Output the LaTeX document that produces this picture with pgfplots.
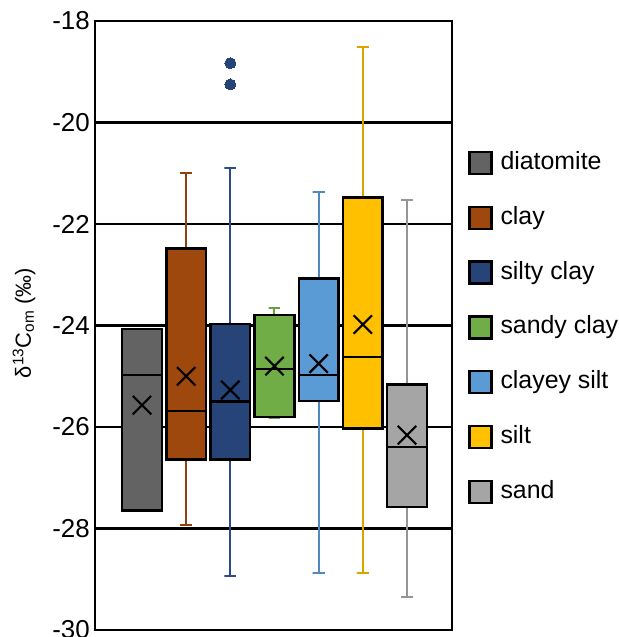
\documentclass[border=0pt]{standalone}
\usepackage{fontspec}
\setmainfont{Liberation Sans}
\usepackage{pgfplots}
\pgfplotsset{compat=1.18}
\definecolor{c1}{HTML}{636363}
\definecolor{c2}{HTML}{9E480E}
\definecolor{c3}{HTML}{264478}
\definecolor{c4}{HTML}{70AD47}
\definecolor{c5}{HTML}{5B9BD5}
\definecolor{c6}{HTML}{FFC000}
\definecolor{c7}{HTML}{A5A5A5}
\definecolor{w2}{HTML}{8E4210}
\definecolor{w3}{HTML}{2B4C80}
\definecolor{w4}{HTML}{6AA044}
\definecolor{w5}{HTML}{5089C2}
\definecolor{w6}{HTML}{D9A300}
\definecolor{w7}{HTML}{959595}
\pgfplotsset{
  box/.style={draw=black, fill=#1, line width=2.5bp, forget plot},
  whisk/.style={draw=#1, line width=2bp, forget plot},
  med/.style={draw=black, line width=2.3bp, forget plot},
  avg/.style={only marks, mark=x, mark size=13bp, mark options={draw=black, line width=2.2bp}, forget plot},
  sq/.style={legend image code/.code={\draw[fill=#1, draw=black, line width=2.5bp] (0bp,-11bp) rectangle (22bp,11bp);}},
}
\begin{document}
\begin{tikzpicture}
\path[use as bounding box] (-95bp,-7bp) rectangle (524bp,630bp);
\begin{axis}[
  at={(0,0)}, anchor=south west,
  scale only axis, width=357bp, height=609bp,
  xmin=-0.064, xmax=8.019,
  ymin=-30, ymax=-18,
  xtick=\empty,
  ytick={-30,-28,-26,-24,-22,-20,-18},
  major tick length=0pt,
  ymajorgrids,
  major grid style={black, line width=2.2bp},
  axis line style={black, line width=2.5bp},
  /pgf/number format/assume math mode=true,
  yticklabel style={font=\fontsize{26}{30}\selectfont, inner sep=0pt, xshift=-5bp},
  ylabel={δ\textsuperscript{13}C\textsubscript{om} (‰)},
  ylabel style={font=\fontsize{22}{26}\selectfont, at={(axis description cs:-0.199,0.504)}, anchor=center},
  legend cell align=left,
  legend style={at={(1.0448,0.787)}, anchor=north west, draw=none, fill=none,
    inner sep=0pt, outer sep=0pt, font=\fontsize{25}{30}\selectfont,
    row sep=30.3bp, /tikz/column sep=8bp,
    nodes={inner sep=0pt, text height=18bp, text depth=5bp}},
]
% diatomite (no whiskers)
\addplot[box=c1] coordinates {(0.55,-27.65) (1.45,-27.65) (1.45,-24.07) (0.55,-24.07)} -- cycle;
\addplot[med] coordinates {(0.55,-24.98) (1.45,-24.98)};
\addplot[avg] coordinates {(1,-25.57)};
% clay
\addplot[whisk=w2] coordinates {(2,-22.48) (2,-21.00) (1.865,-21.00) (2.135,-21.00)};
\addplot[whisk=w2] coordinates {(2,-26.64) (2,-27.94) (1.865,-27.94) (2.135,-27.94)};
\addplot[box=c2] coordinates {(1.55,-26.64) (2.45,-26.64) (2.45,-22.48) (1.55,-22.48)} -- cycle;
\addplot[med] coordinates {(1.55,-25.68) (2.45,-25.68)};
\addplot[avg] coordinates {(2,-25.00)};
% silty clay
\addplot[whisk=w3] coordinates {(3,-23.97) (3,-20.89) (2.865,-20.89) (3.135,-20.89)};
\addplot[whisk=w3] coordinates {(3,-26.64) (3,-28.94) (2.865,-28.94) (3.135,-28.94)};
\addplot[box=c3] coordinates {(2.55,-26.64) (3.45,-26.64) (3.45,-23.97) (2.55,-23.97)} -- cycle;
\addplot[med] coordinates {(2.55,-25.50) (3.45,-25.50)};
\addplot[avg] coordinates {(3,-25.27)};
\addplot[only marks, mark=*, mark size=5.5bp, mark options={fill=c3, draw=c3, line width=0pt}, forget plot] coordinates {(3,-18.83) (3,-19.25)};
% sandy clay
\addplot[whisk=w4] coordinates {(4,-23.79) (4,-23.66) (3.865,-23.66) (4.135,-23.66)};
\addplot[whisk=w4] coordinates {(4,-25.80) (4,-25.83) (3.865,-25.83) (4.135,-25.83)};
\addplot[box=c4] coordinates {(3.55,-25.80) (4.45,-25.80) (4.45,-23.79) (3.55,-23.79)} -- cycle;
\addplot[med] coordinates {(3.55,-24.86) (4.45,-24.86)};
\addplot[avg] coordinates {(4,-24.80)};
% clayey silt
\addplot[whisk=w5] coordinates {(5,-23.07) (5,-21.36) (4.865,-21.36) (5.135,-21.36)};
\addplot[whisk=w5] coordinates {(5,-25.49) (5,-28.88) (4.865,-28.88) (5.135,-28.88)};
\addplot[box=c5] coordinates {(4.55,-25.49) (5.45,-25.49) (5.45,-23.07) (4.55,-23.07)} -- cycle;
\addplot[med] coordinates {(4.55,-24.98) (5.45,-24.98)};
\addplot[avg] coordinates {(5,-24.75)};
% silt
\addplot[whisk=w6] coordinates {(6,-21.48) (6,-18.52) (5.865,-18.52) (6.135,-18.52)};
\addplot[whisk=w6] coordinates {(6,-26.03) (6,-28.88) (5.865,-28.88) (6.135,-28.88)};
\addplot[box=c6] coordinates {(5.55,-26.03) (6.45,-26.03) (6.45,-21.48) (5.55,-21.48)} -- cycle;
\addplot[med] coordinates {(5.55,-24.62) (6.45,-24.62)};
\addplot[avg] coordinates {(6,-23.98)};
% sand
\addplot[whisk=w7] coordinates {(7,-25.16) (7,-21.53) (6.865,-21.53) (7.135,-21.53)};
\addplot[whisk=w7] coordinates {(7,-27.58) (7,-29.34) (6.865,-29.34) (7.135,-29.34)};
\addplot[box=c7] coordinates {(6.55,-27.58) (7.45,-27.58) (7.45,-25.16) (6.55,-25.16)} -- cycle;
\addplot[med] coordinates {(6.55,-26.39) (7.45,-26.39)};
\addplot[avg] coordinates {(7,-26.16)};
% legend
\addlegendimage{sq=c1}\addlegendentry{diatomite}
\addlegendimage{sq=c2}\addlegendentry{clay}
\addlegendimage{sq=c3}\addlegendentry{silty clay}
\addlegendimage{sq=c4}\addlegendentry{sandy clay}
\addlegendimage{sq=c5}\addlegendentry{clayey silt}
\addlegendimage{sq=c6}\addlegendentry{silt}
\addlegendimage{sq=c7}\addlegendentry{sand}
\end{axis}
\end{tikzpicture}
\end{document}
